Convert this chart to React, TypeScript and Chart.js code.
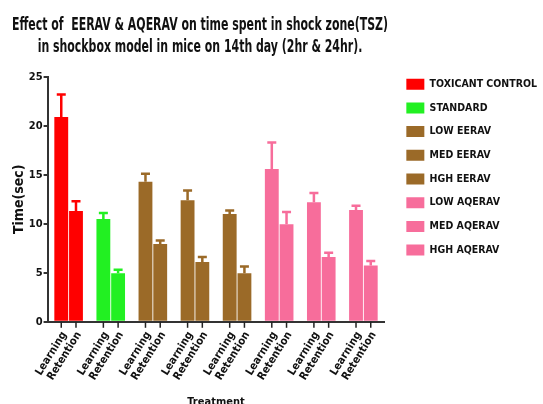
import React, { useEffect, useRef } from "react";
import { Chart, registerables } from "chart.js";

Chart.register(...registerables);

const FONT = "'Liberation Sans Narrow', 'DejaVu Sans Condensed', 'Arial Narrow', 'Liberation Sans', sans-serif";

const titleLines = [
  "Effect of  EERAV & AQERAV on time spent in shock zone(TSZ)",
  "in shockbox model in mice on 14th day (2hr & 24hr).",
];
const treatments = [
  "TOXICANT CONTROL",
  "STANDARD",
  "LOW EERAV",
  "MED EERAV",
  "HGH EERAV",
  "LOW AQERAV",
  "MED AQERAV",
  "HGH AQERAV",
];
const colors = ["#FF0000", "#22F022", "#9B6A28", "#9B6A28", "#9B6A28", "#F76D9B", "#F76D9B", "#F76D9B"];
const tickLabels = ["Learning", "Retention"];
const learning = [20.9, 10.5, 14.3, 12.4, 11.0, 15.6, 12.2, 11.4];
const learningErr = [2.3, 0.6, 0.8, 1.0, 0.35, 2.7, 0.95, 0.45];
const retention = [11.3, 4.95, 7.95, 6.1, 4.95, 9.95, 6.6, 5.75];
const retentionErr = [1.0, 0.35, 0.35, 0.5, 0.7, 1.25, 0.45, 0.45];
const yTitle = "Time(sec)";
const xTitle = "Treatment";

export default function App() {
  const ref = useRef<HTMLCanvasElement>(null);

  useEffect(() => {
    const vals = [learning, retention];
    const errs = [learningErr, retentionErr];

    const errPlugin = {
      id: "errbars",
      afterDatasetsDraw(chart: any) {
        const ctx = chart.ctx;
        const ys = chart.scales.y;
        for (let di = 0; di < 2; di++) {
          const meta = chart.getDatasetMeta(di);
          meta.data.forEach((bar: any, i: number) => {
            const x = bar.x;
            const y0 = ys.getPixelForValue(vals[di][i]);
            const y1 = ys.getPixelForValue(vals[di][i] + errs[di][i]);
            ctx.save();
            ctx.strokeStyle = colors[i];
            ctx.lineWidth = 2.5;
            ctx.beginPath();
            ctx.moveTo(x, y0);
            ctx.lineTo(x, y1);
            ctx.moveTo(x - 4.5, y1);
            ctx.lineTo(x + 4.5, y1);
            ctx.stroke();
            ctx.restore();
          });
        }
      },
    };

    const xLabelPlugin = {
      id: "xlabels",
      afterDraw(chart: any) {
        const ctx = chart.ctx;
        const bottom = chart.chartArea.bottom;
        ctx.save();
        ctx.strokeStyle = "#222";
        ctx.lineWidth = 1.5;
        ctx.fillStyle = "#111";
        ctx.font = `bold 11px ${FONT}`;
        for (let di = 0; di < 2; di++) {
          const meta = chart.getDatasetMeta(di);
          meta.data.forEach((bar: any) => {
            ctx.beginPath();
            ctx.moveTo(bar.x, bottom);
            ctx.lineTo(bar.x, bottom + 6);
            ctx.stroke();
            ctx.save();
            ctx.translate(bar.x + 3, bottom + 11);
            ctx.rotate((-58 * Math.PI) / 180);
            ctx.textAlign = "right";
            ctx.textBaseline = "middle";
            ctx.fillText(tickLabels[di], 0, 0);
            ctx.restore();
          });
        }
        ctx.restore();
      },
    };

    const titlePlugin = {
      id: "toptitle",
      afterDraw(chart: any) {
        const ctx = chart.ctx;
        ctx.save();
        ctx.fillStyle = "#111";
        ctx.font = `bold 17px ${FONT}`;
        ctx.textAlign = "center";
        ctx.textBaseline = "alphabetic";
        const s = 376 / ctx.measureText(titleLines[0]).width;
        ctx.translate(200, 0);
        ctx.scale(s, 1);
        ctx.fillText(titleLines[0], 0, 29.5);
        ctx.fillText(titleLines[1], 0, 52);
        ctx.restore();
      },
    };

    const chart = new Chart(ref.current as HTMLCanvasElement, {
      type: "bar",
      data: {
        labels: treatments,
        datasets: [
          { label: tickLabels[0], data: learning, backgroundColor: colors, borderWidth: 0 },
          { label: tickLabels[1], data: retention, backgroundColor: colors, borderWidth: 0 },
        ],
      },
      options: {
        animation: false,
        responsive: true,
        maintainAspectRatio: false,
        categoryPercentage: 0.7,
        barPercentage: 0.94,
        layout: { padding: { top: 66, left: 11, right: -4, bottom: -5 } },
        plugins: {
          title: { display: true, text: "", font: { size: 9 }, padding: 0 },
          tooltip: { enabled: false },
          legend: {
            position: "right",
            align: "start",
            maxWidth: 170,
            onClick: () => {},
            labels: {
              boxWidth: 18,
              boxHeight: 11,
              padding: 12.7,
              color: "#111",
              font: { family: FONT, size: 10.5, weight: "bold" },
              generateLabels: () =>
                treatments.map((t, i) => ({
                  text: t,
                  fillStyle: colors[i],
                  strokeStyle: colors[i],
                  lineWidth: 0,
                  hidden: false,
                  index: i,
                  fontColor: "#111",
                })),
            },
          },
        },
        scales: {
          x: {
            type: "category",
            ticks: { display: false },
            grid: { display: false },
            border: { display: true, color: "#333", width: 2 },
            title: {
              display: true,
              text: xTitle,
              color: "#111",
              font: { family: FONT, size: 11, weight: "bold" },
              padding: { top: 66, bottom: 0 },
            },
          },
          y: {
            min: 0,
            max: 25,
            ticks: {
              stepSize: 5,
              color: "#111",
              padding: 1,
              font: { family: FONT, size: 11, weight: "bold" },
            },
            grid: {
              display: true,
              drawOnChartArea: false,
              drawTicks: true,
              tickLength: 4,
              color: "#333",
              lineWidth: 2,
            },
            border: { display: true, color: "#333", width: 2 },
            title: {
              display: true,
              text: yTitle,
              color: "#111",
              font: { family: FONT, size: 14, weight: "bold" },
              padding: 0,
            },
          },
          gap: {
            type: "linear",
            position: "right",
            min: 0,
            max: 1,
            display: true,
            ticks: { display: false },
            grid: { display: false },
            border: { display: false },
            title: { display: true, text: "", font: { size: 1 }, padding: 0 },
          },
        },
      },
      plugins: [errPlugin, xLabelPlugin, titlePlugin],
    } as any);

    return () => chart.destroy();
  }, []);

  return (
    <div style={{ position: "absolute", left: 0, top: 0, width: 543, height: 404, background: "#fff" }}>
      <canvas ref={ref} />
    </div>
  );
}
